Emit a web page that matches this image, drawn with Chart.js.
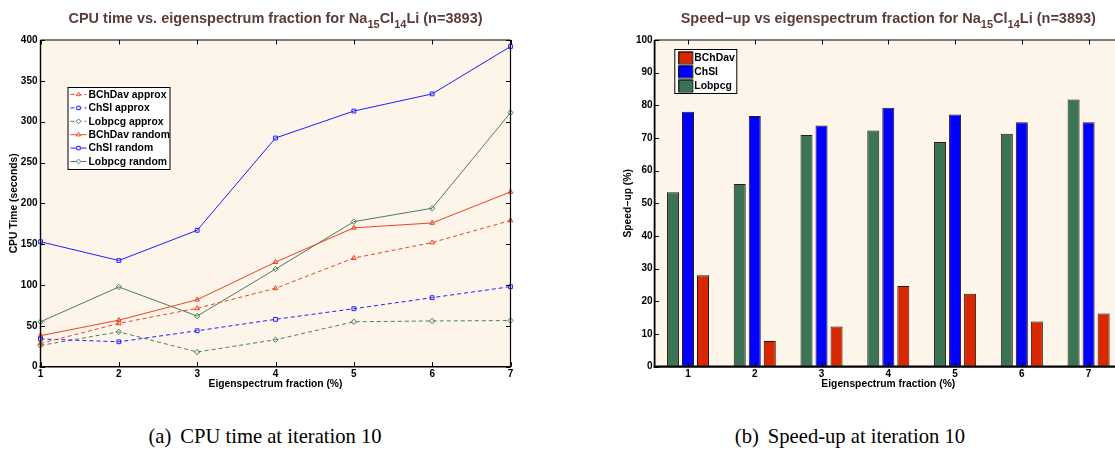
<!DOCTYPE html>
<html>
<head>
<meta charset="utf-8">
<script src="https://cdn.jsdelivr.net/npm/chart.js@4.4.1/dist/chart.umd.min.js"></script>
<style>
html, body { margin: 0; padding: 0; background: #fff; overflow: hidden; width: 1115px; height: 452px; }
.box { position: absolute; top: 0; height: 400px; }
#left { left: 0; width: 560px; }
#right { left: 600px; width: 540px; }
.cap { position: absolute; top: 426px; font-family: "Liberation Serif", serif; font-size: 20.6px; line-height: 20px; white-space: nowrap; transform: translateX(-50%); color: #000; }
.cap span { margin-left: 9px; }
</style>
</head>
<body>
<div class="box" id="left"><canvas id="cpu"></canvas></div>
<div class="box" id="right"><canvas id="speed"></canvas></div>
<div class="cap" style="left:265px">(a)<span>CPU time at iteration 10</span></div>
<div class="cap" style="left:850px">(b)<span>Speed-up at iteration 10</span></div>
<script>
// eigenspectrum fraction (%)
const fractions = ['1', '2', '3', '4', '5', '6', '7'];

// CPU time (seconds)
const bchdavApprox = [28.5, 53, 71.5, 96, 133, 152, 179];
const chsiApprox = [34, 30.5, 44, 58, 71, 84.5, 98];
const lobpcgApprox = [26, 42.7, 18, 33, 55, 56, 56.5];
const bchdavRandom = [38, 57, 82, 128, 170, 176, 214];
const chsiRandom = [153, 130, 167, 280, 313, 334, 392];
const lobpcgRandom = [55, 97.6, 62, 119.5, 177.6, 194, 311];

// speed-up (%)
const speedBChDav = [28, 7.9, 12.3, 24.7, 22.3, 13.8, 16.3];
const speedChSI = [78, 76.7, 73.8, 79.3, 77.2, 74.8, 74.8];
const speedLobpcg = [53.4, 55.9, 70.9, 72.3, 68.8, 71.3, 81.8];

const RED = '#e8451f', BLUE = '#2020ff', GREEN = '#4a7f62';
const BAR_RED = '#d92800', BAR_BLUE = '#0000ff', BAR_GREEN = '#3b7357';
const PLOT_BG = '#fdf5ea';
const FONT = '"Liberation Sans", Arial, sans-serif';

// cream plot area
const plotBg = {
    id: 'plotBg',
    beforeDraw(chart) {
        const {ctx, chartArea: a} = chart;
        ctx.save();
        ctx.fillStyle = PLOT_BG;
        ctx.fillRect(a.left, a.top, a.right - a.left, a.bottom - a.top);
        ctx.restore();
    }
};

// matlab style box with inward ticks
const frame = {
    id: 'frame',
    afterDatasetsDraw(chart, args, opts) {
        const {ctx, chartArea: a, scales} = chart;
        const tl = 4.5;
        ctx.save();
        ctx.strokeStyle = '#000';
        ctx.lineWidth = 1;
        ctx.beginPath();
        scales.x.ticks.forEach((t, i) => {
            const px = Math.round(scales.x.getPixelForTick(i)) + 0.5;
            ctx.moveTo(px, a.bottom); ctx.lineTo(px, a.bottom - tl);
            ctx.moveTo(px, a.top); ctx.lineTo(px, a.top + tl);
        });
        scales.y.ticks.forEach((t, i) => {
            const py = Math.round(scales.y.getPixelForTick(i)) + 0.5;
            ctx.moveTo(a.left, py); ctx.lineTo(a.left + tl, py);
            ctx.moveTo(a.right, py); ctx.lineTo(a.right - tl, py);
        });
        ctx.stroke();
        const w = opts.widths; // top, right, bottom, left
        const side = (lw, x1, y1, x2, y2) => {
            ctx.lineWidth = lw;
            ctx.beginPath(); ctx.moveTo(x1, y1); ctx.lineTo(x2, y2); ctx.stroke();
        };
        side(w[0], a.left, a.top, a.right, a.top);
        side(w[1], a.right, a.top, a.right, a.bottom);
        side(w[2], a.left - 1, a.bottom, a.right, a.bottom);
        side(w[3], a.left, a.top, a.left, a.bottom + 1);
        ctx.restore();
    }
};

// title with subscripts
const subTitle = {
    id: 'subTitle',
    afterDraw(chart, args, opts) {
        const {ctx, chartArea: a} = chart;
        const big = 'bold 14.5px ' + FONT, small = 'bold 11px ' + FONT;
        ctx.save();
        let total = 0;
        opts.parts.forEach(p => {
            ctx.font = p.sub ? small : big;
            total += ctx.measureText(p.text).width;
        });
        let x = (a.left + a.right) / 2 - total / 2;
        ctx.fillStyle = '#5c3b3b';
        ctx.textBaseline = 'alphabetic';
        opts.parts.forEach(p => {
            ctx.font = p.sub ? small : big;
            ctx.fillText(p.text, x, opts.y + (p.sub ? 5 : 0));
            x += ctx.measureText(p.text).width;
        });
        ctx.restore();
    }
};

// boxed legend inside the axes
const boxLegend = {
    id: 'boxLegend',
    afterDraw(chart, args, opts) {
        const {ctx, chartArea: a} = chart;
        const x0 = a.left + opts.dx, y0 = a.top + opts.dy;
        ctx.save();
        ctx.fillStyle = '#fff';
        ctx.fillRect(x0, y0, opts.w, opts.h);
        ctx.strokeStyle = '#000';
        ctx.lineWidth = 1;
        ctx.strokeRect(x0 + 0.5, y0 + 0.5, opts.w, opts.h);
        ctx.font = 'bold 10.4px ' + FONT;
        ctx.textBaseline = 'middle';
        opts.order.forEach((di, row) => {
            const ds = chart.data.datasets[di];
            const cy = y0 + opts.first + row * opts.step;
            if (opts.bars) {
                ctx.fillStyle = ds.backgroundColor;
                ctx.fillRect(x0 + 4, cy - 6, 14, 12);
                ctx.strokeStyle = '#000';
                ctx.strokeRect(x0 + 4.5, cy - 5.5, 14, 12);
                ctx.fillStyle = '#000';
                ctx.fillText(ds.label, x0 + 20, cy + 0.5);
            } else {
                ctx.strokeStyle = ds.borderColor;
                ctx.lineWidth = 1;
                ctx.setLineDash(ds.borderDash || []);
                ctx.beginPath(); ctx.moveTo(x0 + 3, cy); ctx.lineTo(x0 + 19, cy); ctx.stroke();
                ctx.setLineDash([]);
                ctx.fillStyle = '#fff';
                Chart.helpers.drawPoint(ctx, {pointStyle: ds.pointStyle, radius: 2.4, borderWidth: 1}, x0 + 11, cy);
                ctx.fillStyle = '#000';
                ctx.fillText(ds.label, x0 + 21, cy + 0.5);
            }
        });
        ctx.restore();
    }
};

const tickFont = {family: FONT, size: 10, weight: 'bold'};
const titleFont = {family: FONT, size: 10.3, weight: 'bold'};

function lineSet(label, data, color, style, dashed) {
    return {
        label: label,
        data: data,
        borderColor: color,
        backgroundColor: color,
        borderWidth: 1,
        borderDash: dashed ? [4, 3] : [],
        pointStyle: style,
        pointRadius: 2.7,
        pointBorderWidth: 1,
        pointBackgroundColor: 'rgba(0,0,0,0)',
        pointBorderColor: color,
        tension: 0
    };
}

const ctx = document.querySelector('#cpu').getContext('2d');
const chart = new Chart(ctx, {
    type: 'line',
    data: {
        labels: fractions,
        datasets: [
            lineSet('BChDav approx', bchdavApprox, RED, 'triangle', true),
            lineSet('ChSI approx', chsiApprox, BLUE, 'rect', true),
            lineSet('Lobpcg approx', lobpcgApprox, GREEN, 'rectRot', true),
            lineSet('BChDav random', bchdavRandom, RED, 'triangle', false),
            lineSet('ChSI random', chsiRandom, BLUE, 'rect', false),
            lineSet('Lobpcg random', lobpcgRandom, GREEN, 'rectRot', false)
        ]
    },
    options: {
        responsive: true,
        maintainAspectRatio: false,
        animation: false,
        layout: {padding: {top: 40, right: 49.5, left: 0, bottom: 0}},
        scales: {
            x: {
                offset: false,
                grid: {display: false, drawTicks: false},
                border: {display: false},
                ticks: {font: tickFont, color: '#000', padding: 2, maxRotation: 0},
                title: {display: true, text: 'Eigenspectrum fraction (%)', font: titleFont, color: '#000', padding: {top: 0, bottom: 10}},
                afterFit(scale) { scale.height = 33.3; }
            },
            y: {
                min: 0,
                max: 400,
                grid: {display: false, drawTicks: false},
                border: {display: false},
                ticks: {stepSize: 50, font: tickFont, color: '#000', padding: 3},
                title: {display: true, text: 'CPU Time (seconds)', font: titleFont, color: '#000', padding: {top: 8, bottom: 0}},
                afterFit(scale) { scale.width = 40.5; }
            }
        },
        plugins: {
            legend: {display: false},
            tooltip: {enabled: false},
            frame: {widths: [1.2, 1.2, 1.6, 1.4]},
            subTitle: {
                y: 23,
                parts: [
                    {text: 'CPU time vs. eigenspectrum fraction for Na'},
                    {text: '15', sub: true},
                    {text: 'Cl'},
                    {text: '14', sub: true},
                    {text: 'Li (n=3893)'}
                ]
            },
            boxLegend: {dx: 27, dy: 47, w: 102, h: 82, first: 7.5, step: 13.4, order: [0, 1, 2, 3, 4, 5]}
        }
    },
    plugins: [plotBg, frame, subTitle, boxLegend]
});

const ctx2 = document.querySelector('#speed').getContext('2d');
const chart2 = new Chart(ctx2, {
    type: 'bar',
    data: {
        labels: fractions,
        datasets: [
            {label: 'Lobpcg', data: speedLobpcg, backgroundColor: BAR_GREEN},
            {label: 'ChSI', data: speedChSI, backgroundColor: BAR_BLUE},
            {label: 'BChDav', data: speedBChDav, backgroundColor: BAR_RED}
        ]
    },
    options: {
        responsive: true,
        maintainAspectRatio: false,
        animation: false,
        layout: {padding: {top: 40, right: 18, left: 0, bottom: 0}},
        datasets: {
            bar: {
                categoryPercentage: 0.675,
                barPercentage: 0.8,
                borderWidth: 1,
                borderColor: '#2a1a12',
                borderSkipped: false
            }
        },
        scales: {
            x: {
                grid: {display: false, drawTicks: false},
                border: {display: false},
                ticks: {font: tickFont, color: '#000', padding: 2, maxRotation: 0},
                title: {display: true, text: 'Eigenspectrum fraction (%)', font: titleFont, color: '#000', padding: {top: 0, bottom: 10}},
                afterFit(scale) { scale.height = 33.3; }
            },
            y: {
                min: 0,
                max: 100,
                grid: {display: false, drawTicks: false},
                border: {display: false},
                ticks: {stepSize: 10, font: tickFont, color: '#000', padding: 2},
                title: {display: true, text: 'Speed\u2212up (%)', font: titleFont, color: '#000', padding: {top: 22, bottom: 0}},
                afterFit(scale) { scale.width = 54.6; }
            }
        },
        plugins: {
            legend: {display: false},
            tooltip: {enabled: false},
            frame: {widths: [1.2, 1.2, 2.2, 1.8]},
            subTitle: {
                y: 23,
                parts: [
                    {text: 'Speed\u2212up vs eigenspectrum fraction for Na'},
                    {text: '15', sub: true},
                    {text: 'Cl'},
                    {text: '14', sub: true},
                    {text: 'Li (n=3893)'}
                ]
            },
            boxLegend: {bars: true, dx: 19.7, dy: 9, w: 62, h: 44, first: 8.5, step: 14, order: [2, 1, 0]}
        }
    },
    plugins: [plotBg, frame, subTitle, boxLegend]
});
</script>
</body>
</html>
